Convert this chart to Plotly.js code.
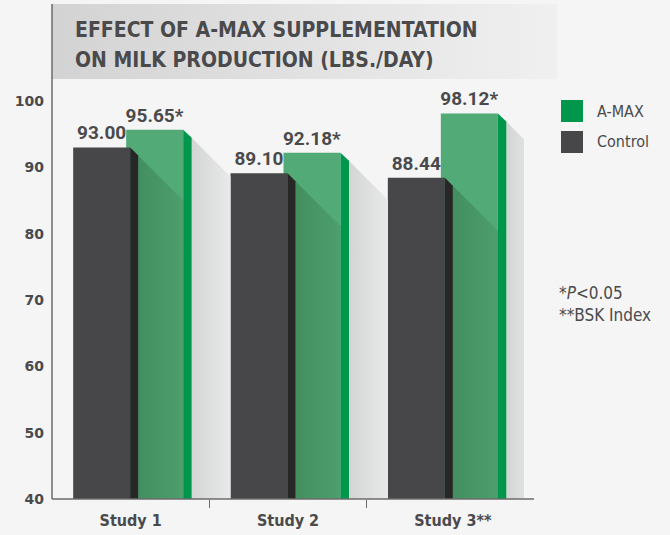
<!DOCTYPE html>
<html><head><meta charset="utf-8">
<script src="https://cdn.plot.ly/plotly-3.0.1.min.js"></script>
<style>html,body{margin:0;padding:0;background:#f5f5f5;}</style>
</head><body><div id="chart" style="width:670px;height:535px;"></div>
<script>
// ---- data ----
const categories = ['Study 1', 'Study 2', 'Study 3**'];
const seriesNames = ['A-MAX', 'Control'];
const amaxValues = [95.65, 92.18, 98.12];
const controlValues = [93.00, 89.10, 88.44];
const yTicks = [40, 50, 60, 70, 80, 90, 100];
const titleLines = ['EFFECT OF A-MAX SUPPLEMENTATION', 'ON MILK PRODUCTION (LBS./DAY)'];
const footnotes = ['*<i>P</i>&lt;0.05', '**BSK Index'];

// ---- geometry / style ----
const W = 670, H = 535, L = 52, R = 146, T = 101, B = 36;
const plotW = W - L - R, plotH = H - T - B;
const yMin = 40, yMax = 100;
const kx = plotW / 3, ky = plotH / (yMax - yMin);
const px = p => p / kx, py = p => p / ky;
const fx = p => (p - L) / plotW, fy = p => (H - B - p) / plotH;
const CF0 = -57.5, CF1 = -0.5, CS1 = 7.5, GF0 = -4.5, GF1 = 52.5, GS1 = 61, SL = 8;
const TXT = '#4a4a4c';
const NARROW = 'DejaVu Sans Condensed, DejaVu Sans, sans-serif';
const idx = categories.map((_, i) => i);

// tick labels: keep trailing asterisks hanging to the right of the centred name
const tickText = categories.map(c => {
  const m = c.match(/\*+$/);
  return m ? '<span style="color:rgba(0,0,0,0)">' + m[0] + '</span>' + c : c;
});

const traces = [];
traces.push({
  type: 'bar', x: idx, y: amaxValues, name: seriesNames[0],
  offset: px(GF0), width: px(GF1 - GF0),
  marker: {color: '#52aa77', line: {width: 0}},
  texttemplate: '%{y:.2f}*', textposition: 'outside', constraintext: 'none', cliponaxis: false,
  textfont: {family: 'Roboto, sans-serif', size: 19, weight: 'bold', color: TXT},
  showlegend: false, hoverinfo: 'skip'
});
traces.push({
  type: 'bar', x: idx, y: controlValues, name: seriesNames[1],
  offset: px(CF0), width: px(CF1 - CF0),
  marker: {color: '#474749', line: {width: 0}},
  texttemplate: '%{y:.2f}', textposition: 'outside', constraintext: 'none', cliponaxis: false,
  textfont: {family: 'Roboto, sans-serif', size: 19, weight: 'bold', color: TXT},
  showlegend: false, hoverinfo: 'skip'
});

function poly(xs, ys, extra) {
  return Object.assign({type: 'scatter', mode: 'none', x: xs, y: ys, fill: 'toself',
    showlegend: false, hoverinfo: 'skip', line: {width: 0}}, extra);
}

idx.forEach(i => {
  const g = amaxValues[i], c = controlValues[i];
  // cast shadow of green bar on the background
  const xs = i + px(GS1), ys = g - py(SL);
  const last = i === idx.length - 1;
  const xe = !last ? (i + 1 + px(CF0)) : (i + px(110));
  const drop = py((xe - xs) * kx);
  traces.push(poly([xs, xe, xe, xs], [ys, ys - drop, yMin, yMin], {
    fillgradient: {type: 'horizontal', colorscale: last
      ? [[0, '#d3d5d5'], [0.55, '#e6e7e7'], [1, '#f5f5f5']]
      : [[0, '#d3d5d5'], [1, '#e9e9e9']]}
  }));
  // shadow of control bar on the green bar
  const x0 = i + px(CS1), y0 = c - py(SL), x1 = i + px(GF1);
  traces.push(poly([x0, x1, x1, x0], [y0, y0 - py((x1 - x0) * kx), yMin, yMin], {
    fillgradient: {type: 'horizontal', colorscale: [[0, '#438e5f'], [1, '#4d9f6d']]}
  }));
  // control side face
  traces.push(poly([i + px(CF1), i + px(CS1), i + px(CS1), i + px(CF1)], [c, c - py(SL), yMin, yMin],
    {fillcolor: '#272727'}));
  // green side face
  traces.push(poly([i + px(GF1), i + px(GS1), i + px(GS1), i + px(GF1)], [g, g - py(SL), yMin, yMin],
    {fillcolor: '#00974c'}));
});

const svg = '<svg xmlns="http://www.w3.org/2000/svg" width="200" height="20" preserveAspectRatio="none">' +
  '<defs><linearGradient id="g" x1="0" x2="1" y1="0" y2="0"><stop offset="0" stop-color="#d3d3d3"/>' +
  '<stop offset="1" stop-color="#f0f0f0"/></linearGradient></defs><rect width="200" height="20" fill="url(#g)"/></svg>';

const legendColors = ['#00974c', '#474749'];
const shapes = [
  {type: 'line', xref: 'paper', yref: 'paper', x0: 0, x1: 0, y0: 0, y1: fy(4), line: {color: '#6b6b6b', width: 1.5}},
  {type: 'line', xref: 'paper', yref: 'paper', x0: 0, x1: fx(534), y0: 0, y1: 0, line: {color: '#6b6b6b', width: 1.5}}
];
const annotations = [];
seriesNames.forEach((n, k) => {
  const top = 100 + k * 31;
  shapes.push({type: 'rect', xref: 'paper', yref: 'paper', x0: fx(561), x1: fx(583), y0: fy(top + 22), y1: fy(top),
    fillcolor: legendColors[k], line: {width: 0}});
  annotations.push({xref: 'paper', yref: 'paper', x: fx(595), y: fy(top + 11), xanchor: 'left', yanchor: 'middle',
    text: n, showarrow: false, font: {family: NARROW, size: 16, color: TXT}});
});
titleLines.forEach((t, k) => {
  annotations.push({xref: 'paper', yref: 'paper', x: fx(73), y: fy(30 + k * 30), xanchor: 'left', yanchor: 'middle',
    text: t, showarrow: false, font: {family: NARROW, size: 21, weight: 'bold', color: TXT}});
});
annotations.push({xref: 'paper', yref: 'paper', x: fx(557), y: fy(304), xanchor: 'left', yanchor: 'middle', align: 'left',
  text: footnotes.join('<br>'), showarrow: false, font: {family: NARROW, size: 17, color: TXT}});

const layout = {
  width: W, height: H, margin: {l: L, r: R, t: T, b: B},
  paper_bgcolor: '#f5f5f5', plot_bgcolor: '#f5f5f5',
  barmode: 'overlay', showlegend: false,
  xaxis: {type: 'linear', range: [-0.5, 2.5], tickmode: 'array', tickvals: idx, ticktext: tickText,
    ticks: '', showgrid: false, zeroline: false, showline: false, fixedrange: true,
    tickfont: {family: 'DejaVu Sans Condensed, DejaVu Sans, sans-serif', size: 16, weight: 'bold', color: TXT},
    ticklabelstandoff: 10,
    minor: {tickmode: 'array', tickvals: [0.5, 1.5], ticks: 'outside', ticklen: 8, tickcolor: '#6b6b6b', tickwidth: 1.5, showgrid: false}},
  yaxis: {range: [yMin, yMax], tickmode: 'array', tickvals: yTicks, ticks: '', showgrid: false, zeroline: false,
    showline: false, fixedrange: true, ticklabelstandoff: 7,
    tickfont: {family: 'DejaVu Sans, sans-serif', size: 14, weight: 'bold', color: TXT}},
  images: [{source: 'data:image/svg+xml;base64,' + btoa(svg), xref: 'paper', yref: 'paper',
    x: 0, y: fy(4), sizex: fx(557), sizey: 75 / plotH, sizing: 'stretch', xanchor: 'left', yanchor: 'top', layer: 'below'}],
  shapes: shapes, annotations: annotations
};
Plotly.newPlot('chart', traces, layout, {displayModeBar: false, staticPlot: true});
</script></body></html>
